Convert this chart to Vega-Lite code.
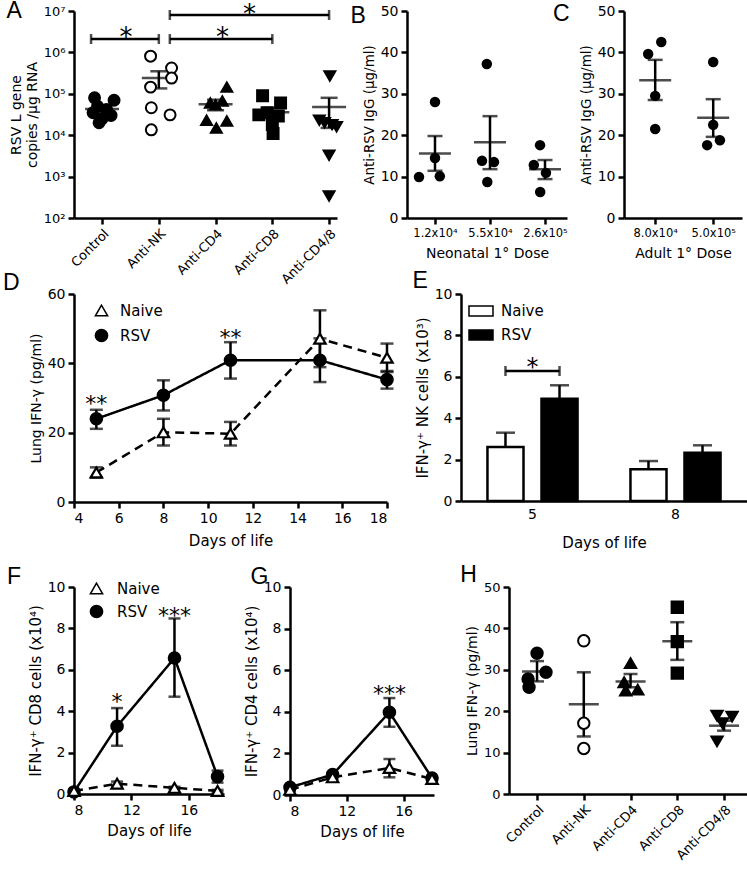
{
  "$schema": "https://vega.github.io/schema/vega-lite/v6.json",
  "background": "white",
  "padding": {"left": 2, "top": 0, "right": 0, "bottom": 0},
  "config": {
    "font": "DejaVu Sans",
    "view": {"stroke": null},
    "axis": {"grid": false, "domainColor": "black", "domainWidth": 2.5, "tickColor": "black", "tickWidth": 2.5, "tickSize": 6, "labelColor": "black", "titleColor": "black", "labelFontSize": 14, "titleFontSize": 14, "titleFontWeight": "normal", "labelPadding": 3},
    "title": {"font": "Liberation Sans", "fontSize": 23, "fontWeight": "normal", "orient": "left", "angle": 0, "anchor": "end", "align": "right", "frame": "group", "offset": 0, "baseline": "alphabetic", "color": "black"},
    "legend": {"labelFontSize": 15, "labelColor": "black", "padding": 0},
    "text": {"baseline": "alphabetic", "color": "black"}
  },
  "datasets": {
    "A_pts": [
      {"group": "Control", "value": 80000, "jit": -0.5},
      {"group": "Control", "value": 70000, "jit": 0.8},
      {"group": "Control", "value": 50000, "jit": -0.3},
      {"group": "Control", "value": 42000, "jit": 0.3},
      {"group": "Control", "value": 35000, "jit": -0.6},
      {"group": "Control", "value": 30000, "jit": 0.6},
      {"group": "Control", "value": 25000, "jit": 0},
      {"group": "Control", "value": 20000, "jit": -0.2},
      {"group": "Anti-NK", "value": 810000, "jit": -0.55},
      {"group": "Anti-NK", "value": 420000, "jit": 0.85},
      {"group": "Anti-NK", "value": 240000, "jit": 0.85},
      {"group": "Anti-NK", "value": 145000, "jit": -0.55},
      {"group": "Anti-NK", "value": 46000, "jit": -0.5},
      {"group": "Anti-NK", "value": 31000, "jit": 0.75},
      {"group": "Anti-NK", "value": 13500, "jit": -0.5},
      {"group": "Anti-CD4", "value": 145000, "jit": 0.75},
      {"group": "Anti-CD4", "value": 67000, "jit": 0.45},
      {"group": "Anti-CD4", "value": 60000, "jit": -0.35},
      {"group": "Anti-CD4", "value": 54000, "jit": 0},
      {"group": "Anti-CD4", "value": 23000, "jit": -0.6},
      {"group": "Anti-CD4", "value": 22000, "jit": 0.75},
      {"group": "Anti-CD4", "value": 15000, "jit": 0.05},
      {"group": "Anti-CD8", "value": 90000, "jit": -0.65},
      {"group": "Anti-CD8", "value": 60000, "jit": 0.55},
      {"group": "Anti-CD8", "value": 35000, "jit": -0.35},
      {"group": "Anti-CD8", "value": 31000, "jit": -0.9},
      {"group": "Anti-CD8", "value": 29000, "jit": 0.4},
      {"group": "Anti-CD8", "value": 18000, "jit": 0},
      {"group": "Anti-CD8", "value": 11000, "jit": 0.05},
      {"group": "Anti-CD4/8", "value": 270000, "jit": 0.05},
      {"group": "Anti-CD4/8", "value": 23000, "jit": -0.65},
      {"group": "Anti-CD4/8", "value": 20000, "jit": -0.3},
      {"group": "Anti-CD4/8", "value": 18000, "jit": 0.2},
      {"group": "Anti-CD4/8", "value": 16000, "jit": 0.5},
      {"group": "Anti-CD4/8", "value": 3300, "jit": 0},
      {"group": "Anti-CD4/8", "value": 340, "jit": 0}
    ],
    "A_sum": [
      {"group": "Control", "mean": 43000, "lo": 37000, "hi": 50000},
      {"group": "Anti-NK", "mean": 240000, "lo": 135000, "hi": 350000},
      {"group": "Anti-CD4", "mean": 56000, "lo": 40000, "hi": 72000},
      {"group": "Anti-CD8", "mean": 36000, "lo": 28000, "hi": 46000},
      {"group": "Anti-CD4/8", "mean": 48000, "lo": 15000, "hi": 80000}
    ],
    "A_sig": [
      {"from": "Control", "to": "Anti-NK", "y": 2100000},
      {"from": "Anti-NK", "to": "Anti-CD8", "y": 2100000},
      {"from": "Anti-NK", "to": "Anti-CD4/8", "y": 8000000}
    ],
    "B_pts": [
      {"dose": "1.2x10⁴", "value": 28.0, "jit": 0},
      {"dose": "1.2x10⁴", "value": 14.5, "jit": 0},
      {"dose": "1.2x10⁴", "value": 9.9, "jit": -1},
      {"dose": "1.2x10⁴", "value": 10.1, "jit": 0.3},
      {"dose": "5.5x10⁴", "value": 37.2, "jit": -0.2},
      {"dose": "5.5x10⁴", "value": 13.8, "jit": -0.5},
      {"dose": "5.5x10⁴", "value": 13.5, "jit": 0.25},
      {"dose": "5.5x10⁴", "value": 8.7, "jit": -0.17},
      {"dose": "2.6x10⁵", "value": 17.6, "jit": -0.31},
      {"dose": "2.6x10⁵", "value": 12.8, "jit": -0.7},
      {"dose": "2.6x10⁵", "value": 10.9, "jit": 0.06},
      {"dose": "2.6x10⁵", "value": 6.3, "jit": -0.3}
    ],
    "B_sum": [
      {"dose": "1.2x10⁴", "mean": 15.6, "lo": 11.4, "hi": 19.8},
      {"dose": "5.5x10⁴", "mean": 18.3, "lo": 11.8, "hi": 24.6},
      {"dose": "2.6x10⁵", "mean": 11.8, "lo": 9.4, "hi": 14.0}
    ],
    "C_pts": [
      {"dose": "8.0x10⁴", "value": 39.6, "jit": -0.44},
      {"dose": "8.0x10⁴", "value": 42.5, "jit": 0.38},
      {"dose": "8.0x10⁴", "value": 29.5, "jit": 0},
      {"dose": "8.0x10⁴", "value": 21.5, "jit": 0},
      {"dose": "5.0x10⁵", "value": 37.7, "jit": 0},
      {"dose": "5.0x10⁵", "value": 22.5, "jit": 0},
      {"dose": "5.0x10⁵", "value": 17.6, "jit": -0.38},
      {"dose": "5.0x10⁵", "value": 18.8, "jit": 0.42}
    ],
    "C_sum": [
      {"dose": "8.0x10⁴", "mean": 33.3, "lo": 28.5, "hi": 38.2},
      {"dose": "5.0x10⁵", "mean": 24.2, "lo": 19.6, "hi": 28.7}
    ],
    "D": [
      {"group": "RSV", "day": 5, "mean": 24.0, "lo": 21.1, "hi": 26.6},
      {"group": "RSV", "day": 8, "mean": 30.8, "lo": 26.4, "hi": 35.1},
      {"group": "RSV", "day": 11, "mean": 40.9, "lo": 35.6, "hi": 46.1},
      {"group": "RSV", "day": 15, "mean": 40.9, "lo": 34.6, "hi": 47.2},
      {"group": "RSV", "day": 18, "mean": 35.3, "lo": 32.7, "hi": 37.8},
      {"group": "Naive", "day": 5, "mean": 8.5, "lo": 7.0, "hi": 10.0},
      {"group": "Naive", "day": 8, "mean": 20.1, "lo": 16.3, "hi": 24.0},
      {"group": "Naive", "day": 11, "mean": 19.7, "lo": 16.3, "hi": 23.1},
      {"group": "Naive", "day": 15, "mean": 47.1, "lo": 38.9, "hi": 55.3},
      {"group": "Naive", "day": 18, "mean": 41.6, "lo": 37.5, "hi": 45.7}
    ],
    "D_stars": [
      {"day": 5, "y": 29.8, "label": "**"},
      {"day": 11, "y": 48.8, "label": "**"}
    ],
    "E": [
      {"day": "5", "group": "Naive", "value": 2.61, "hi": 3.30},
      {"day": "5", "group": "RSV", "value": 4.94, "hi": 5.59},
      {"day": "8", "group": "Naive", "value": 1.53, "hi": 1.93},
      {"day": "8", "group": "RSV", "value": 2.33, "hi": 2.69}
    ],
    "E_sig": [
      {"day": "5", "group": "Naive", "y": 6.28},
      {"day": "5", "group": "RSV", "y": 6.28}
    ],
    "E_star": [
      {"day": "5", "y": 6.71, "label": "*"}
    ],
    "F": [
      {"group": "RSV", "day": 8, "mean": 0.1, "lo": 0.05, "hi": 0.15},
      {"group": "RSV", "day": 11, "mean": 3.27, "lo": 2.33, "hi": 4.15},
      {"group": "RSV", "day": 15, "mean": 6.57, "lo": 4.70, "hi": 8.48},
      {"group": "RSV", "day": 18, "mean": 0.84, "lo": 0.55, "hi": 1.13},
      {"group": "Naive", "day": 8, "mean": 0.15, "lo": 0.1, "hi": 0.2},
      {"group": "Naive", "day": 11, "mean": 0.5, "lo": 0.4, "hi": 0.6},
      {"group": "Naive", "day": 15, "mean": 0.3, "lo": 0.25, "hi": 0.35},
      {"group": "Naive", "day": 18, "mean": 0.15, "lo": 0.1, "hi": 0.2}
    ],
    "F_stars": [
      {"day": 11, "y": 4.67, "label": "*"},
      {"day": 15, "y": 8.86, "label": "***"}
    ],
    "G": [
      {"group": "RSV", "day": 8, "mean": 0.37, "lo": 0.3, "hi": 0.44},
      {"group": "RSV", "day": 11, "mean": 0.98, "lo": 0.9, "hi": 1.06},
      {"group": "RSV", "day": 15, "mean": 3.98, "lo": 3.28, "hi": 4.66},
      {"group": "RSV", "day": 18, "mean": 0.82, "lo": 0.75, "hi": 0.9},
      {"group": "Naive", "day": 8, "mean": 0.25, "lo": 0.2, "hi": 0.3},
      {"group": "Naive", "day": 11, "mean": 0.85, "lo": 0.78, "hi": 0.92},
      {"group": "Naive", "day": 15, "mean": 1.3, "lo": 0.85, "hi": 1.73},
      {"group": "Naive", "day": 18, "mean": 0.77, "lo": 0.7, "hi": 0.84}
    ],
    "G_stars": [
      {"day": 15, "y": 5.1, "label": "***"}
    ],
    "H_pts": [
      {"group": "Control", "value": 34.0, "jit": 0},
      {"group": "Control", "value": 27.8, "jit": -0.56},
      {"group": "Control", "value": 29.4, "jit": 0.56},
      {"group": "Control", "value": 25.8, "jit": -0.5},
      {"group": "Anti-NK", "value": 37.0, "jit": 0},
      {"group": "Anti-NK", "value": 17.1, "jit": 0},
      {"group": "Anti-NK", "value": 11.0, "jit": 0},
      {"group": "Anti-CD4", "value": 31.6, "jit": 0},
      {"group": "Anti-CD4", "value": 27.0, "jit": -0.4},
      {"group": "Anti-CD4", "value": 25.0, "jit": -0.3},
      {"group": "Anti-CD4", "value": 25.2, "jit": 0.45},
      {"group": "Anti-CD8", "value": 45.1, "jit": 0},
      {"group": "Anti-CD8", "value": 36.8, "jit": 0},
      {"group": "Anti-CD8", "value": 29.2, "jit": 0},
      {"group": "Anti-CD4/8", "value": 18.9, "jit": -0.44},
      {"group": "Anti-CD4/8", "value": 18.7, "jit": 0.5},
      {"group": "Anti-CD4/8", "value": 17.1, "jit": -0.1},
      {"group": "Anti-CD4/8", "value": 12.7, "jit": -0.44}
    ],
    "H_sum": [
      {"group": "Control", "mean": 29.6, "lo": 27.2, "hi": 32.1},
      {"group": "Anti-NK", "mean": 21.7, "lo": 13.9, "hi": 29.4},
      {"group": "Anti-CD4", "mean": 27.2, "lo": 25.8, "hi": 29.0},
      {"group": "Anti-CD8", "mean": 36.9, "lo": 32.4, "hi": 41.5},
      {"group": "Anti-CD4/8", "mean": 16.5, "lo": 15.3, "hi": 17.7}
    ]
  },
  "resolve": {"scale": {"shape": "independent", "fill": "independent", "strokeDash": "independent", "xOffset": "independent"}, "legend": {"shape": "independent", "fill": "independent", "strokeDash": "independent"}},
  "vconcat": [
    {
      "resolve": {"scale": {"shape": "independent", "fill": "independent", "strokeDash": "independent", "xOffset": "independent"}, "legend": {"shape": "independent", "fill": "independent", "strokeDash": "independent"}},
      "hconcat": [
        {
          "width": 263, "height": 207,
          "title": {"text": "A", "dx": 32, "dy": -11},
          "layer": [
            {
              "data": {"name": "A_sum"},
              "mark": {"type": "tick", "orient": "horizontal", "color": "black", "size": 34, "thickness": 2.5},
              "encoding": {
                "x": {"field": "group", "type": "nominal", "scale": {"type": "point", "domain": ["Control", "Anti-NK", "Anti-CD4", "Anti-CD8", "Anti-CD4/8"], "padding": 0.317, "align": 0.78}, "axis": {"title": null, "labelAngle": -45, "labelAlign": "right", "labelBaseline": "top", "labelFontSize": 13}},
                "y": {"field": "mean", "type": "quantitative", "scale": {"type": "log", "domain": [100, 10000000], "nice": false}, "axis": {"values": [100, 1000, 10000, 100000, 1000000, 10000000], "labelExpr": "'10' + ['⁰','¹','²','³','⁴','⁵','⁶','⁷'][round(log(datum.value)/LN10)]", "title": ["RSV L gene", "copies /μg RNA"], "titleFontSize": 14, "labelFontSize": 13}}
              }
            },
            {
              "data": {"name": "A_sum"},
              "mark": {"type": "rule", "color": "black", "strokeWidth": 2.5},
              "encoding": {"x": {"field": "group", "type": "nominal"}, "y": {"field": "lo", "type": "quantitative"}, "y2": {"field": "hi"}}
            },
            {
              "data": {"name": "A_sum"},
              "mark": {"type": "tick", "orient": "horizontal", "color": "black", "size": 17, "thickness": 2.5},
              "encoding": {"x": {"field": "group", "type": "nominal"}, "y": {"field": "lo", "type": "quantitative"}}
            },
            {
              "data": {"name": "A_sum"},
              "mark": {"type": "tick", "orient": "horizontal", "color": "black", "size": 17, "thickness": 2.5},
              "encoding": {"x": {"field": "group", "type": "nominal"}, "y": {"field": "hi", "type": "quantitative"}}
            },
            {
              "data": {"name": "A_pts"},
              "mark": {"type": "point", "filled": true, "size": 120, "stroke": "black", "strokeWidth": 2, "opacity": 1},
              "encoding": {
                "x": {"field": "group", "type": "nominal"},
                "xOffset": {"field": "jit", "type": "quantitative", "scale": {"domain": [-1, 1], "range": [-15, 15]}},
                "y": {"field": "value", "type": "quantitative"},
                "shape": {"field": "group", "type": "nominal", "scale": {"domain": ["Control", "Anti-NK", "Anti-CD4", "Anti-CD8", "Anti-CD4/8"], "range": ["circle", "circle", "triangle-up", "square", "triangle-down"]}, "legend": null},
                "fill": {"field": "group", "type": "nominal", "scale": {"domain": ["Control", "Anti-NK", "Anti-CD4", "Anti-CD8", "Anti-CD4/8"], "range": ["black", "white", "black", "black", "black"]}, "legend": null}
              }
            },
            {
              "data": {"name": "A_sig"},
              "transform": [{"filter": "datum.from == 'Control'"}],
              "mark": {"type": "rule", "color": "black", "strokeWidth": 2.5, "xOffset": -11},
              "encoding": {"x": {"field": "from", "type": "nominal"}, "x2": {"field": "to"}, "y": {"field": "y", "type": "quantitative"}}
            },
            {
              "data": {"name": "A_sig"},
              "transform": [{"filter": "datum.from == 'Anti-NK'"}],
              "mark": {"type": "rule", "color": "black", "strokeWidth": 2.5, "xOffset": 11},
              "encoding": {"x": {"field": "from", "type": "nominal"}, "x2": {"field": "to"}, "y": {"field": "y", "type": "quantitative"}}
            },
            {
              "data": {"name": "A_sig"},
              "mark": {"type": "tick", "orient": "vertical", "color": "black", "size": 10, "thickness": 2.5},
              "encoding": {"x": {"field": "to", "type": "nominal"}, "y": {"field": "y", "type": "quantitative"}}
            },
            {
              "data": {"name": "A_sig"},
              "transform": [{"filter": "datum.from == 'Control'"}],
              "mark": {"type": "tick", "orient": "vertical", "color": "black", "size": 10, "thickness": 2.5, "xOffset": -11},
              "encoding": {"x": {"field": "from", "type": "nominal"}, "y": {"field": "y", "type": "quantitative"}}
            },
            {
              "data": {"name": "A_sig"},
              "transform": [{"filter": "datum.from == 'Anti-NK'"}],
              "mark": {"type": "tick", "orient": "vertical", "color": "black", "size": 10, "thickness": 2.5, "xOffset": 11},
              "encoding": {"x": {"field": "from", "type": "nominal"}, "y": {"field": "y", "type": "quantitative"}}
            },
            {
              "data": {"values": [{"group": "Control", "y": 3300000, "label": "*"}]},
              "mark": {"type": "text", "fontSize": 26, "dx": 24, "dy": 15, "baseline": "alphabetic"},
              "encoding": {"x": {"field": "group", "type": "nominal"}, "y": {"field": "y", "type": "quantitative"}, "text": {"field": "label"}}
            },
            {
              "data": {"values": [{"group": "Anti-CD4", "y": 3300000, "label": "*"}]},
              "mark": {"type": "text", "fontSize": 26, "dx": 7, "dy": 15, "baseline": "alphabetic"},
              "encoding": {"x": {"field": "group", "type": "nominal"}, "y": {"field": "y", "type": "quantitative"}, "text": {"field": "label"}}
            },
            {
              "data": {"values": [{"group": "Anti-CD4", "y": 11800000, "label": "*"}]},
              "mark": {"type": "text", "fontSize": 26, "dx": 34, "dy": 15, "baseline": "alphabetic"},
              "encoding": {"x": {"field": "group", "type": "nominal"}, "y": {"field": "y", "type": "quantitative"}, "text": {"field": "label"}}
            }
          ]
        },
        {
          "resolve": {"scale": {"shape": "independent", "fill": "independent", "strokeDash": "independent", "xOffset": "independent"}, "legend": {"shape": "independent", "fill": "independent", "strokeDash": "independent"}},
          "hconcat": [
            {
              "width": 160, "height": 207,
              "title": {"text": "B", "dx": 23, "dy": -6},
              "layer": [
                {
                  "data": {"name": "B_sum"},
                  "mark": {"type": "tick", "orient": "horizontal", "color": "black", "size": 32, "thickness": 2.5},
                  "encoding": {
                    "x": {"field": "dose", "type": "nominal", "scale": {"type": "point", "domain": ["1.2x10⁴", "5.5x10⁴", "2.6x10⁵"], "padding": 0.4545, "align": 0.56}, "axis": {"title": "Neonatal 1° Dose", "labelAngle": 0, "labelFontSize": 11.5, "titleFontSize": 14, "titlePadding": 8}},
                    "y": {"field": "mean", "type": "quantitative", "scale": {"domain": [0, 50], "nice": false}, "axis": {"values": [0, 10, 20, 30, 40, 50], "title": "Anti-RSV IgG (μg/ml)", "titleFontSize": 13.5}}
                  }
                },
                {
                  "data": {"name": "B_sum"},
                  "mark": {"type": "rule", "color": "black", "strokeWidth": 2.5},
                  "encoding": {"x": {"field": "dose", "type": "nominal"}, "y": {"field": "lo", "type": "quantitative"}, "y2": {"field": "hi"}}
                },
                {
                  "data": {"name": "B_sum"},
                  "mark": {"type": "tick", "orient": "horizontal", "color": "black", "size": 15, "thickness": 2.5},
                  "encoding": {"x": {"field": "dose", "type": "nominal"}, "y": {"field": "lo", "type": "quantitative"}}
                },
                {
                  "data": {"name": "B_sum"},
                  "mark": {"type": "tick", "orient": "horizontal", "color": "black", "size": 15, "thickness": 2.5},
                  "encoding": {"x": {"field": "dose", "type": "nominal"}, "y": {"field": "hi", "type": "quantitative"}}
                },
                {
                  "data": {"name": "B_pts"},
                  "mark": {"type": "circle", "size": 110, "color": "black", "opacity": 1},
                  "encoding": {
                    "x": {"field": "dose", "type": "nominal"},
                    "xOffset": {"field": "jit", "type": "quantitative", "scale": {"domain": [-1, 1], "range": [-16, 16]}},
                    "y": {"field": "value", "type": "quantitative"}
                  }
                }
              ]
            },
            {
              "width": 118, "height": 207,
              "title": {"text": "C", "dx": 11, "dy": -8},
              "layer": [
                {
                  "data": {"name": "C_sum"},
                  "mark": {"type": "tick", "orient": "horizontal", "color": "black", "size": 32, "thickness": 2.5},
                  "encoding": {
                    "x": {"field": "dose", "type": "nominal", "scale": {"type": "point", "domain": ["8.0x10⁴", "5.0x10⁵"], "padding": 0.517, "align": 0.52}, "axis": {"title": "Adult 1° Dose", "labelAngle": 0, "labelFontSize": 11.5, "titleFontSize": 14, "titlePadding": 8}},
                    "y": {"field": "mean", "type": "quantitative", "scale": {"domain": [0, 50], "nice": false}, "axis": {"values": [0, 10, 20, 30, 40, 50], "title": "Anti-RSV IgG (μg/ml)", "titleFontSize": 13.5}}
                  }
                },
                {
                  "data": {"name": "C_sum"},
                  "mark": {"type": "rule", "color": "black", "strokeWidth": 2.5},
                  "encoding": {"x": {"field": "dose", "type": "nominal"}, "y": {"field": "lo", "type": "quantitative"}, "y2": {"field": "hi"}}
                },
                {
                  "data": {"name": "C_sum"},
                  "mark": {"type": "tick", "orient": "horizontal", "color": "black", "size": 15, "thickness": 2.5},
                  "encoding": {"x": {"field": "dose", "type": "nominal"}, "y": {"field": "lo", "type": "quantitative"}}
                },
                {
                  "data": {"name": "C_sum"},
                  "mark": {"type": "tick", "orient": "horizontal", "color": "black", "size": 15, "thickness": 2.5},
                  "encoding": {"x": {"field": "dose", "type": "nominal"}, "y": {"field": "hi", "type": "quantitative"}}
                },
                {
                  "data": {"name": "C_pts"},
                  "mark": {"type": "circle", "size": 110, "color": "black", "opacity": 1},
                  "encoding": {
                    "x": {"field": "dose", "type": "nominal"},
                    "xOffset": {"field": "jit", "type": "quantitative", "scale": {"domain": [-1, 1], "range": [-16, 16]}},
                    "y": {"field": "value", "type": "quantitative"}
                  }
                }
              ]
            }
          ],
          "spacing": 57,
          "bounds": "flush"
        }
      ],
      "spacing": 70,
      "bounds": "flush"
    },
    {
      "resolve": {"scale": {"shape": "independent", "fill": "independent", "strokeDash": "independent", "xOffset": "independent"}, "legend": {"shape": "independent", "fill": "independent", "strokeDash": "independent"}},
      "vconcat": [
        {
          "resolve": {"scale": {"shape": "independent", "fill": "independent", "strokeDash": "independent", "xOffset": "independent"}, "legend": {"shape": "independent", "fill": "independent", "strokeDash": "independent"}},
          "hconcat": [
            {
              "width": 313, "height": 208,
              "title": {"text": "D", "dx": 11, "dy": -22},
              "layer": [
                {
                  "data": {"name": "D"},
                  "mark": {"type": "line", "color": "black", "strokeWidth": 2.5},
                  "encoding": {
                    "x": {"field": "day", "type": "quantitative", "scale": {"domain": [4, 18], "nice": false, "zero": false}, "axis": {"values": [4, 6, 8, 10, 12, 14, 16, 18], "title": "Days of life", "titleFontSize": 15, "titlePadding": 8}},
                    "y": {"field": "mean", "type": "quantitative", "scale": {"domain": [0, 60], "nice": false}, "axis": {"values": [0, 20, 40, 60], "title": "Lung IFN-γ (pg/ml)"}},
                    "strokeDash": {"field": "group", "type": "nominal", "scale": {"domain": ["RSV", "Naive"], "range": [[1, 0], [9, 6]]}, "legend": null}
                  }
                },
                {
                  "data": {"name": "D"},
                  "mark": {"type": "rule", "color": "black", "strokeWidth": 2.5},
                  "encoding": {"x": {"field": "day", "type": "quantitative"}, "y": {"field": "lo", "type": "quantitative"}, "y2": {"field": "hi"}}
                },
                {
                  "data": {"name": "D"},
                  "mark": {"type": "tick", "orient": "horizontal", "color": "black", "size": 13, "thickness": 2.5},
                  "encoding": {"x": {"field": "day", "type": "quantitative"}, "y": {"field": "lo", "type": "quantitative"}}
                },
                {
                  "data": {"name": "D"},
                  "mark": {"type": "tick", "orient": "horizontal", "color": "black", "size": 13, "thickness": 2.5},
                  "encoding": {"x": {"field": "day", "type": "quantitative"}, "y": {"field": "hi", "type": "quantitative"}}
                },
                {
                  "data": {"name": "D"},
                  "mark": {"type": "point", "filled": true, "size": 130, "stroke": "black", "strokeWidth": 2.2, "opacity": 1},
                  "encoding": {
                    "x": {"field": "day", "type": "quantitative"},
                    "y": {"field": "mean", "type": "quantitative"},
                    "shape": {"field": "group", "type": "nominal", "scale": {"domain": ["Naive", "RSV"], "range": ["triangle-up", "circle"]},
                      "legend": {"title": null, "orient": "top-left", "offset": 9, "symbolOffset": 11, "labelOffset": 11, "symbolSize": 150, "labelFontSize": 15, "rowPadding": 7,
                        "encode": {"symbols": {"stroke": {"value": "black"}, "strokeWidth": {"value": 2.2}, "opacity": {"value": 1}}}}},
                    "fill": {"field": "group", "type": "nominal", "scale": {"domain": ["Naive", "RSV"], "range": ["white", "black"]}}
                  }
                },
                {
                  "data": {"name": "D_stars"},
                  "mark": {"type": "text", "fontSize": 22, "dy": 12, "baseline": "alphabetic"},
                  "encoding": {"x": {"field": "day", "type": "quantitative"}, "y": {"field": "y", "type": "quantitative"}, "text": {"field": "label"}}
                }
              ]
            },
            {
              "width": 286, "height": 207,
              "title": {"text": "E", "dx": 32, "dy": -24},
              "layer": [
                {
                  "data": {"name": "E"},
                  "mark": {"type": "bar", "stroke": "black", "strokeWidth": 2.5},
                  "encoding": {
                    "x": {"field": "day", "type": "nominal", "scale": {"paddingInner": 0.37, "paddingOuter": 0.185}, "axis": {"labelAngle": 0, "ticks": false, "title": "Days of life", "titleFontSize": 15, "titlePadding": 14, "labelPadding": 6}},
                    "xOffset": {"field": "group", "type": "nominal", "scale": {"domain": ["Naive", "RSV"], "paddingInner": 0.333, "paddingOuter": 0}},
                    "y": {"field": "value", "type": "quantitative", "scale": {"domain": [0, 10], "nice": false}, "axis": {"values": [0, 2, 4, 6, 8, 10], "title": "IFN-γ⁺ NK cells (x10³)", "titleFontSize": 15}},
                    "fill": {"field": "group", "type": "nominal", "scale": {"domain": ["Naive", "RSV"], "range": ["white", "black"]},
                      "legend": {"title": null, "orient": "top-left", "offset": 4, "symbolOffset": 3, "labelOffset": 7, "symbolSize": 576, "symbolType": "M-1,-0.42H1V0.42H-1Z", "labelFontSize": 15, "rowPadding": 2,
                        "encode": {"symbols": {
                          "shape": {"value": "M-1,-0.42H1V0.42H-1Z"},
                          "stroke": {"value": "black"}, "strokeWidth": {"value": 2.5}, "opacity": {"value": 1}}}}}
                  }
                },
                {
                  "data": {"name": "E"},
                  "mark": {"type": "rule", "color": "black", "strokeWidth": 2.5},
                  "encoding": {"x": {"field": "day", "type": "nominal"}, "xOffset": {"field": "group", "type": "nominal"}, "y": {"field": "value", "type": "quantitative"}, "y2": {"field": "hi"}}
                },
                {
                  "data": {"name": "E"},
                  "mark": {"type": "tick", "orient": "horizontal", "color": "black", "size": 19, "thickness": 2.5},
                  "encoding": {"x": {"field": "day", "type": "nominal"}, "xOffset": {"field": "group", "type": "nominal"}, "y": {"field": "hi", "type": "quantitative"}}
                },
                {
                  "data": {"name": "E_sig"},
                  "transform": [{"filter": "datum.group == 'Naive'"}],
                  "mark": {"type": "rule", "color": "black", "strokeWidth": 2.5, "xOffset": -27, "x2Offset": 27},
                  "encoding": {"x": {"field": "day", "type": "nominal"}, "x2": {"field": "day"}, "y": {"field": "y", "type": "quantitative"}}
                },
                {
                  "data": {"name": "E_sig"},
                  "mark": {"type": "tick", "orient": "vertical", "color": "black", "size": 10, "thickness": 2.5},
                  "encoding": {"x": {"field": "day", "type": "nominal"}, "xOffset": {"field": "group", "type": "nominal"}, "y": {"field": "y", "type": "quantitative"}}
                },
                {
                  "data": {"name": "E_star"},
                  "mark": {"type": "text", "fontSize": 24, "dy": 13, "baseline": "alphabetic"},
                  "encoding": {"x": {"field": "day", "type": "nominal"}, "y": {"field": "y", "type": "quantitative"}, "text": {"field": "label"}}
                }
              ]
            }
          ],
          "spacing": 74,
          "bounds": "flush"
        },
        {
          "resolve": {"scale": {"shape": "independent", "fill": "independent", "strokeDash": "independent", "xOffset": "independent"}, "legend": {"shape": "independent", "fill": "independent", "strokeDash": "independent"}},
          "hconcat": [
            {
              "width": 150, "height": 207,
              "title": {"text": "F", "dx": 11, "dy": -21},
              "layer": [
                {
                  "data": {"name": "F"},
                  "mark": {"type": "line", "color": "black", "strokeWidth": 2.5},
                  "encoding": {
                    "x": {"field": "day", "type": "quantitative", "scale": {"domain": [8, 18.45], "nice": false, "zero": false}, "axis": {"values": [8, 10, 12, 14, 16, 18], "labelOverlap": false, "title": "Days of life", "titleFontSize": 15, "titlePadding": 6}},
                    "y": {"field": "mean", "type": "quantitative", "scale": {"domain": [0, 10], "nice": false}, "axis": {"values": [0, 2, 4, 6, 8, 10], "title": "IFN-γ⁺ CD8 cells (x10⁴)", "titleFontSize": 15}},
                    "strokeDash": {"field": "group", "type": "nominal", "scale": {"domain": ["RSV", "Naive"], "range": [[1, 0], [9, 6]]}, "legend": null}
                  }
                },
                {
                  "data": {"name": "F"},
                  "mark": {"type": "rule", "color": "black", "strokeWidth": 2.5},
                  "encoding": {"x": {"field": "day", "type": "quantitative"}, "y": {"field": "lo", "type": "quantitative"}, "y2": {"field": "hi"}}
                },
                {
                  "data": {"name": "F"},
                  "mark": {"type": "tick", "orient": "horizontal", "color": "black", "size": 12, "thickness": 2.5},
                  "encoding": {"x": {"field": "day", "type": "quantitative"}, "y": {"field": "lo", "type": "quantitative"}}
                },
                {
                  "data": {"name": "F"},
                  "mark": {"type": "tick", "orient": "horizontal", "color": "black", "size": 12, "thickness": 2.5},
                  "encoding": {"x": {"field": "day", "type": "quantitative"}, "y": {"field": "hi", "type": "quantitative"}}
                },
                {
                  "data": {"name": "F"},
                  "mark": {"type": "point", "filled": true, "size": 130, "stroke": "black", "strokeWidth": 2.2, "opacity": 1},
                  "encoding": {
                    "x": {"field": "day", "type": "quantitative"},
                    "y": {"field": "mean", "type": "quantitative"},
                    "shape": {"field": "group", "type": "nominal", "scale": {"domain": ["Naive", "RSV"], "range": ["triangle-up", "circle"]},
                      "legend": {"title": null, "orient": "top-left", "offset": -6, "symbolOffset": 21, "labelOffset": 13, "symbolSize": 150, "labelFontSize": 15, "rowPadding": 5,
                        "encode": {"symbols": {"stroke": {"value": "black"}, "strokeWidth": {"value": 2.2}, "opacity": {"value": 1}}}}},
                    "fill": {"field": "group", "type": "nominal", "scale": {"domain": ["Naive", "RSV"], "range": ["white", "black"]}}
                  }
                },
                {
                  "data": {"name": "F_stars"},
                  "mark": {"type": "text", "fontSize": 22, "dy": 12, "baseline": "alphabetic"},
                  "encoding": {"x": {"field": "day", "type": "quantitative"}, "y": {"field": "y", "type": "quantitative"}, "text": {"field": "label"}}
                }
              ]
            },
            {
              "resolve": {"scale": {"shape": "independent", "fill": "independent", "strokeDash": "independent", "xOffset": "independent"}, "legend": {"shape": "independent", "fill": "independent", "strokeDash": "independent"}},
              "hconcat": [
                {
                  "width": 144, "height": 208,
                  "title": {"text": "G", "dx": 46, "dy": -21},
                  "layer": [
                    {
                      "data": {"name": "G"},
                      "mark": {"type": "line", "color": "black", "strokeWidth": 2.5},
                      "encoding": {
                        "x": {"field": "day", "type": "quantitative", "scale": {"domain": [8, 18.14], "nice": false, "zero": false}, "axis": {"values": [8, 10, 12, 14, 16, 18], "labelOverlap": false, "title": "Days of life", "titleFontSize": 15, "titlePadding": 6}},
                        "y": {"field": "mean", "type": "quantitative", "scale": {"domain": [0, 10], "nice": false}, "axis": {"values": [0, 2, 4, 6, 8, 10], "title": "IFN-γ⁺ CD4 cells (x10⁴)", "titleFontSize": 15}},
                        "strokeDash": {"field": "group", "type": "nominal", "scale": {"domain": ["Naive", "RSV"], "range": [[9, 6], [1, 0]]}, "legend": null}
                      }
                    },
                    {
                      "data": {"name": "G"},
                      "mark": {"type": "rule", "color": "black", "strokeWidth": 2.5},
                      "encoding": {"x": {"field": "day", "type": "quantitative"}, "y": {"field": "lo", "type": "quantitative"}, "y2": {"field": "hi"}}
                    },
                    {
                      "data": {"name": "G"},
                      "mark": {"type": "tick", "orient": "horizontal", "color": "black", "size": 12, "thickness": 2.5},
                      "encoding": {"x": {"field": "day", "type": "quantitative"}, "y": {"field": "lo", "type": "quantitative"}}
                    },
                    {
                      "data": {"name": "G"},
                      "mark": {"type": "tick", "orient": "horizontal", "color": "black", "size": 12, "thickness": 2.5},
                      "encoding": {"x": {"field": "day", "type": "quantitative"}, "y": {"field": "hi", "type": "quantitative"}}
                    },
                    {
                      "data": {"name": "G"},
                      "mark": {"type": "point", "filled": true, "size": 130, "stroke": "black", "strokeWidth": 2.2, "opacity": 1},
                      "encoding": {
                        "x": {"field": "day", "type": "quantitative"},
                        "y": {"field": "mean", "type": "quantitative"},
                        "shape": {"field": "group", "type": "nominal", "scale": {"domain": ["Naive", "RSV"], "range": ["triangle-up", "circle"]}, "legend": null},
                        "fill": {"field": "group", "type": "nominal", "scale": {"domain": ["Naive", "RSV"], "range": ["white", "black"]}, "legend": null}
                      }
                    },
                    {
                      "data": {"name": "G_stars"},
                      "mark": {"type": "text", "fontSize": 22, "dy": 12, "baseline": "alphabetic"},
                      "encoding": {"x": {"field": "day", "type": "quantitative"}, "y": {"field": "y", "type": "quantitative"}, "text": {"field": "label"}}
                    }
                  ]
                },
                {
                  "width": 238, "height": 207,
                  "title": {"text": "H", "dx": 32, "dy": -23},
                  "layer": [
                    {
                      "data": {"name": "H_sum"},
                      "mark": {"type": "tick", "orient": "horizontal", "color": "black", "size": 30, "thickness": 2.5},
                      "encoding": {
                        "x": {"field": "group", "type": "nominal", "scale": {"type": "point", "domain": ["Control", "Anti-NK", "Anti-CD4", "Anti-CD8", "Anti-CD4/8"], "padding": 0.545, "align": 0.55}, "axis": {"title": null, "labelAngle": -45, "labelAlign": "right", "labelBaseline": "top", "labelFontSize": 13}},
                        "y": {"field": "mean", "type": "quantitative", "scale": {"domain": [0, 50], "nice": false}, "axis": {"values": [0, 10, 20, 30, 40, 50], "title": "Lung IFN-γ (pg/ml)", "titleFontSize": 14, "labelFontSize": 13}}
                      }
                    },
                    {
                      "data": {"name": "H_sum"},
                      "mark": {"type": "rule", "color": "black", "strokeWidth": 2.5},
                      "encoding": {"x": {"field": "group", "type": "nominal"}, "y": {"field": "lo", "type": "quantitative"}, "y2": {"field": "hi"}}
                    },
                    {
                      "data": {"name": "H_sum"},
                      "mark": {"type": "tick", "orient": "horizontal", "color": "black", "size": 14, "thickness": 2.5},
                      "encoding": {"x": {"field": "group", "type": "nominal"}, "y": {"field": "lo", "type": "quantitative"}}
                    },
                    {
                      "data": {"name": "H_sum"},
                      "mark": {"type": "tick", "orient": "horizontal", "color": "black", "size": 14, "thickness": 2.5},
                      "encoding": {"x": {"field": "group", "type": "nominal"}, "y": {"field": "hi", "type": "quantitative"}}
                    },
                    {
                      "data": {"name": "H_pts"},
                      "mark": {"type": "point", "filled": true, "size": 130, "stroke": "black", "strokeWidth": 2, "opacity": 1},
                      "encoding": {
                        "x": {"field": "group", "type": "nominal"},
                        "xOffset": {"field": "jit", "type": "quantitative", "scale": {"domain": [-1, 1], "range": [-16, 16]}},
                        "y": {"field": "value", "type": "quantitative"},
                        "shape": {"field": "group", "type": "nominal", "scale": {"domain": ["Control", "Anti-NK", "Anti-CD4", "Anti-CD8", "Anti-CD4/8"], "range": ["circle", "circle", "triangle-up", "square", "triangle-down"]}, "legend": null},
                        "fill": {"field": "group", "type": "nominal", "scale": {"domain": ["Control", "Anti-NK", "Anti-CD4", "Anti-CD8", "Anti-CD4/8"], "range": ["black", "white", "black", "black", "black"]}, "legend": null}
                      }
                    }
                  ]
                }
              ],
              "spacing": 75,
              "bounds": "flush"
            }
          ],
          "spacing": 66,
          "bounds": "flush"
        }
      ],
      "spacing": 14,
      "bounds": "full"
    }
  ],
  "spacing": -17,
  "bounds": "full"
}
